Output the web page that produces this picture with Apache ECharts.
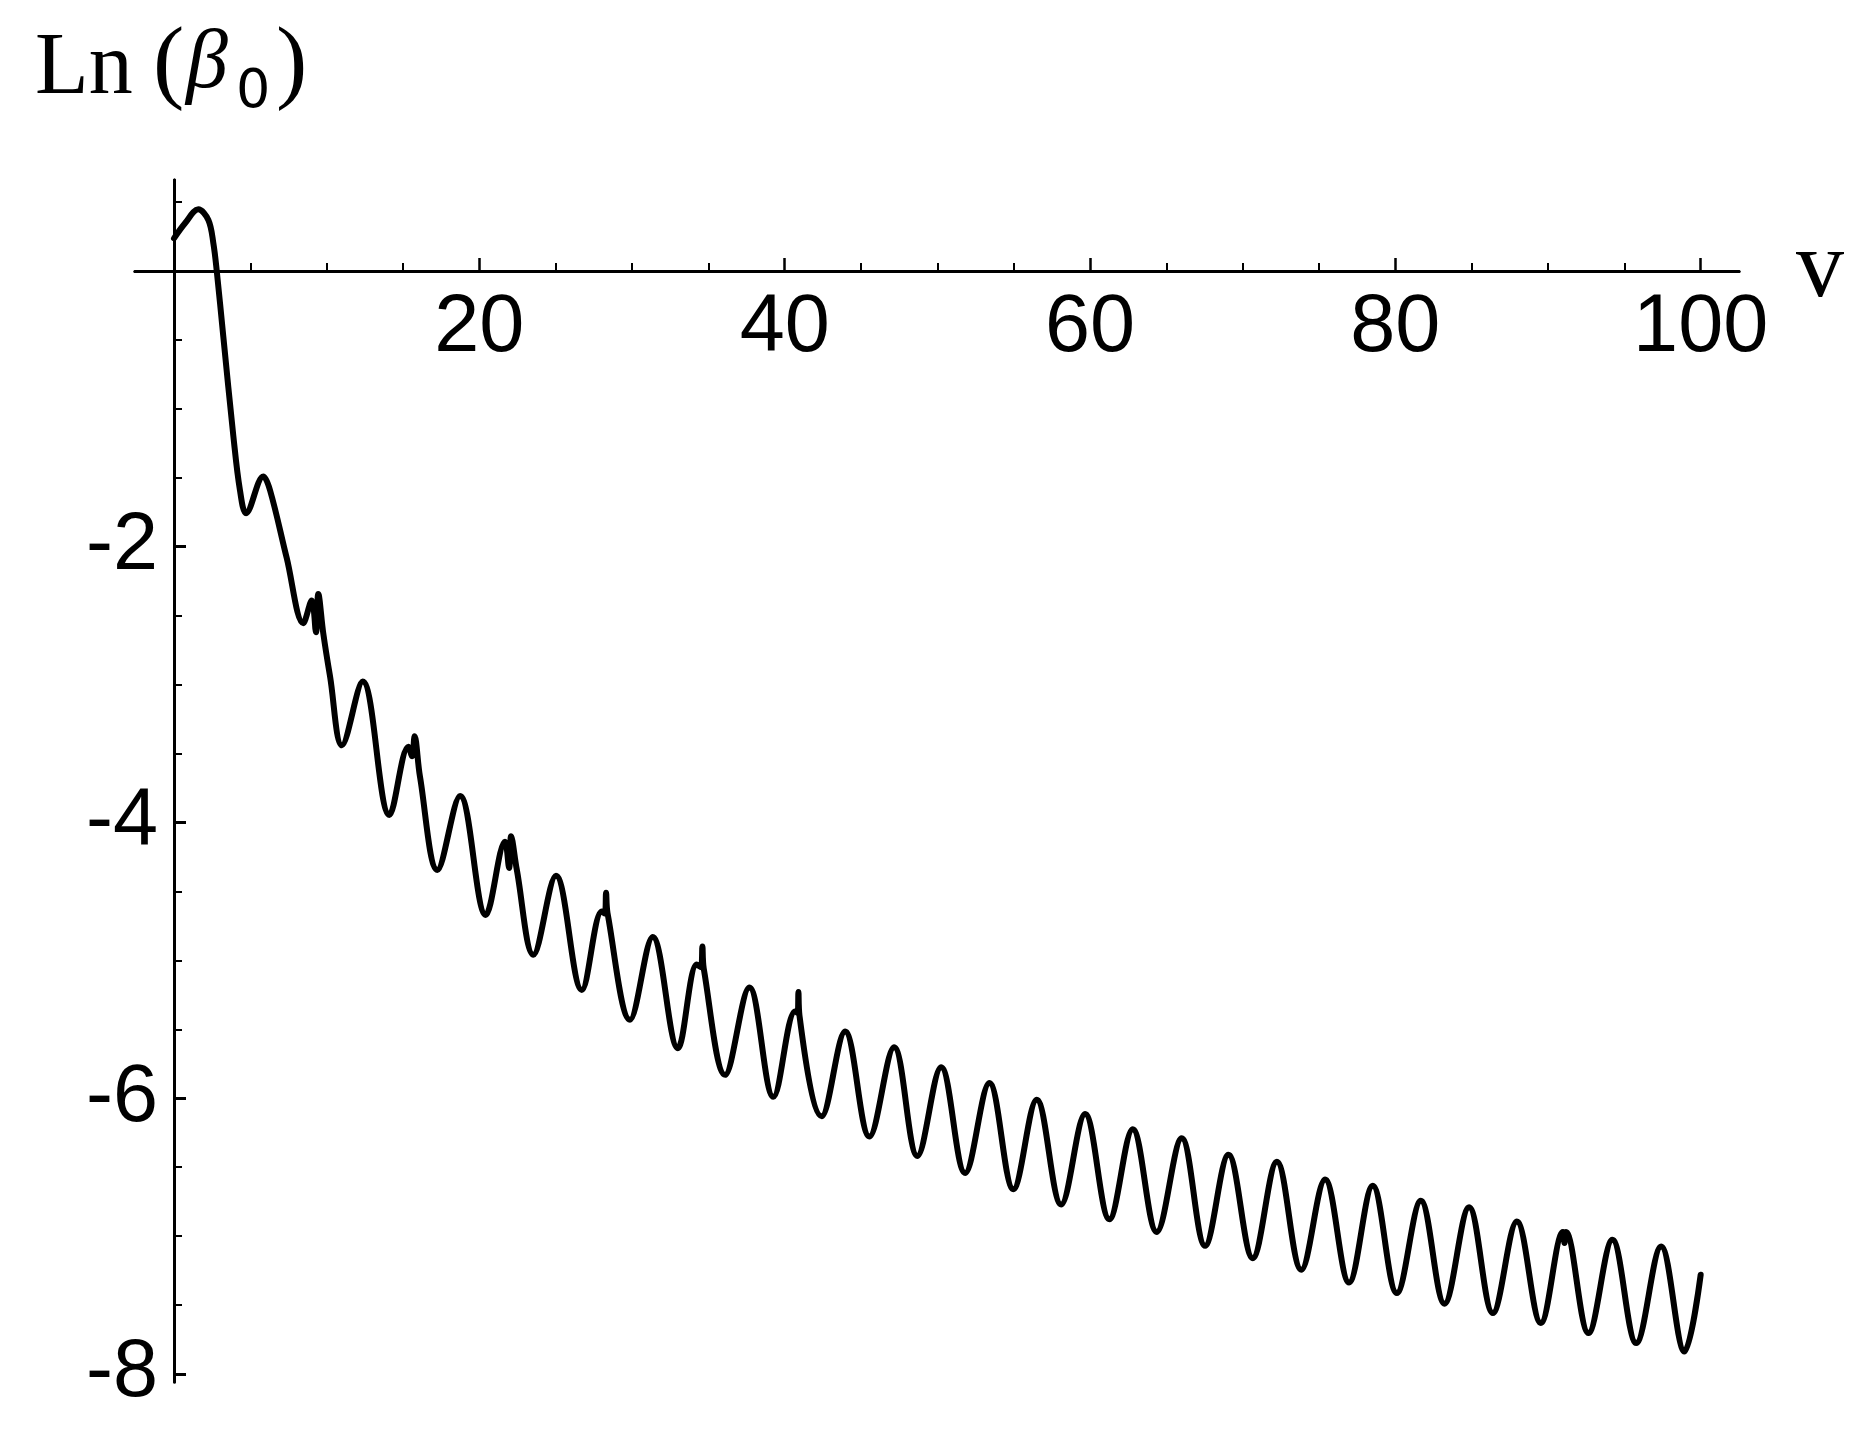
<!DOCTYPE html>
<html>
<head>
<meta charset="utf-8">
<script src="https://cdn.jsdelivr.net/npm/echarts@6/dist/echarts.min.js"></script>
<style>
  html, body { margin: 0; padding: 0; background: #ffffff; }
  #chart { width: 1863px; height: 1446px; }
</style>
</head>
<body>
<div id="chart"></div>
<script>
// ---- data ----
const vValues = [
  0, 0.72, 1.59, 2.25, 2.58, 2.8, 3.23, 3.89, 4.32, 4.72,
  5.85, 6.29, 7.38, 8.47, 9.02, 9.3, 9.45, 9.78, 10.22, 11.0,
  12.36, 14.11, 15.35, 15.60, 15.76, 16.11, 17.25, 18.74, 20.42, 21.68,
  21.95, 22.08, 22.45, 23.54, 25.02, 26.71, 28.02, 28.22, 28.30, 28.40,
  29.87, 31.36, 33.0, 34.24, 34.52, 34.61, 34.70, 36.10, 37.69, 39.26,
  40.68, 40.85, 40.90, 40.97, 42.43, 43.96, 45.55, 47.17, 48.69, 50.25,
  51.82, 53.41, 54.98, 56.51, 58.11, 59.68, 61.27, 62.80, 64.37, 66.01,
  67.54, 69.07, 70.66, 72.24, 73.84, 75.40, 76.97, 78.52, 80.10, 81.67,
  83.22, 84.83, 86.39, 87.96, 89.53, 90.98, 91.08, 91.18, 92.65, 94.22,
  95.78, 97.41, 98.94, 100.0
];
const lnBeta = [
  0.237, 0.346, 0.447, 0.37, 0.2, 0.0, -0.476, -1.2, -1.59, -1.757,
  -1.49, -1.59, -2.08, -2.555, -2.39, -2.62, -2.342, -2.63, -2.94, -3.44,
  -2.978, -3.945, -3.45, -3.52, -3.375, -3.667, -4.344, -3.807, -4.67, -4.14,
  -4.33, -4.10, -4.34, -4.96, -4.387, -5.214, -4.646, -4.66, -4.51, -4.66,
  -5.43, -4.83, -5.637, -5.03, -5.05, -4.90, -5.06, -5.83, -5.197, -5.99,
  -5.37, -5.38, -5.23, -5.40, -6.13, -5.516, -6.278, -5.63, -6.418, -5.775,
  -6.543, -5.89, -6.66, -6.01, -6.77, -6.115, -6.877, -6.224, -6.97, -6.29,
  -7.07, -6.41, -7.16, -6.46, -7.244, -6.59, -7.336, -6.635, -7.413, -6.744,
  -7.49, -6.79, -7.558, -6.894, -7.63, -6.97, -7.05, -6.97, -7.703, -7.027,
  -7.776, -7.075, -7.837, -7.28
];
const xMajorTicks = [20, 40, 60, 80, 100];
const xMinorTicks = [5, 10, 15, 25, 30, 35, 45, 50, 55, 65, 70, 75, 85, 90, 95];
const yMajorTicks = [-2, -4, -6, -8];
const yMinorTicks = [0.5, -0.5, -1, -1.5, -2.5, -3, -3.5, -4.5, -5, -5.5, -6.5, -7, -7.5];
const xAxisName = 'v';
const xRange = [-2.555, 102.51];
const yRange = [-8.058, 0.66];

const seriesData = vValues.map((v, i) => [v, lnBeta[i]]);

const black = '#000000';
const tickFont = 'Liberation Sans';

function xAxisBase(idx) {
  return {
    type: 'value', position: 'bottom', min: xRange[0], max: xRange[1],
    axisLine: { show: true, onZero: true, onZeroAxisIndex: idx, lineStyle: { color: black, width: 3 } },
    splitLine: { show: false },
    minorTick: { show: false }
  };
}
function yAxisBase(idx) {
  return {
    type: 'value', position: 'left', min: yRange[0], max: yRange[1],
    axisLine: { show: true, onZero: true, onZeroAxisIndex: idx, lineStyle: { color: black, width: 3 } },
    splitLine: { show: false },
    minorTick: { show: false }
  };
}

const chart = echarts.init(document.getElementById('chart'), null, { renderer: 'canvas' });
chart.setOption({
  animation: false,
  backgroundColor: '#ffffff',
  title: [
    { text: 'Ln', left: 35, top: 26, padding: 0,
      textStyle: { fontFamily: 'Liberation Serif', fontSize: 88, fontWeight: 'normal', color: black } },
    { text: '(', left: 153, top: 19, padding: 0,
      textStyle: { fontFamily: 'Liberation Serif', fontSize: 94, fontWeight: 'normal', color: black } },
    { text: 'β', left: 186, top: 23, padding: 0,
      textStyle: { fontFamily: 'Liberation Serif', fontStyle: 'italic', fontSize: 84, fontWeight: 'normal', color: black } },
    { text: '0', left: 236, top: 66, padding: 0,
      textStyle: { fontFamily: 'DejaVu Sans', fontSize: 54, fontWeight: 'normal', color: black } },
    { text: ')', left: 276, top: 19, padding: 0,
      textStyle: { fontFamily: 'Liberation Serif', fontSize: 94, fontWeight: 'normal', color: black } }
  ],
  grid: { left: 135, right: 124, top: 180, bottom: 64, containLabel: false, outerBoundsMode: 'none' },
  xAxis: [
    Object.assign(xAxisBase(0), {
      name: xAxisName, nameLocation: 'end', nameGap: 57,
      nameTextStyle: { fontFamily: 'Liberation Serif', fontSize: 96, color: black, verticalAlign: 'middle', padding: [0, 0, 14, 0] },
      axisTick: { show: true, inside: true, length: 13, customValues: xMajorTicks, lineStyle: { color: black, width: 2.5 } },
      axisLabel: { show: true, customValues: xMajorTicks, margin: -1094, fontFamily: tickFont, fontSize: 81, color: black }
    }),
    Object.assign(xAxisBase(1), {
      axisTick: { show: true, inside: true, length: 8, customValues: xMinorTicks, lineStyle: { color: black, width: 2 } },
      axisLabel: { show: false }
    })
  ],
  yAxis: [
    Object.assign(yAxisBase(0), {
      axisTick: { show: true, inside: true, length: 12, customValues: yMajorTicks, lineStyle: { color: black, width: 3 } },
      axisLabel: { show: true, customValues: yMajorTicks, margin: -23, fontFamily: tickFont, fontSize: 81, color: black }
    }),
    Object.assign(yAxisBase(1), {
      axisTick: { show: true, inside: true, length: 8, customValues: yMinorTicks, lineStyle: { color: black, width: 2 } },
      axisLabel: { show: false }
    })
  ],
  series: [{
    type: 'line',
    xAxisIndex: 0, yAxisIndex: 0,
    data: seriesData,
    smooth: 0.36,
    showSymbol: false,
    symbol: 'none',
    sampling: null,
    lineStyle: { color: black, width: 6, join: 'round', cap: 'round' }
  }]
});
</script>
</body>
</html>
